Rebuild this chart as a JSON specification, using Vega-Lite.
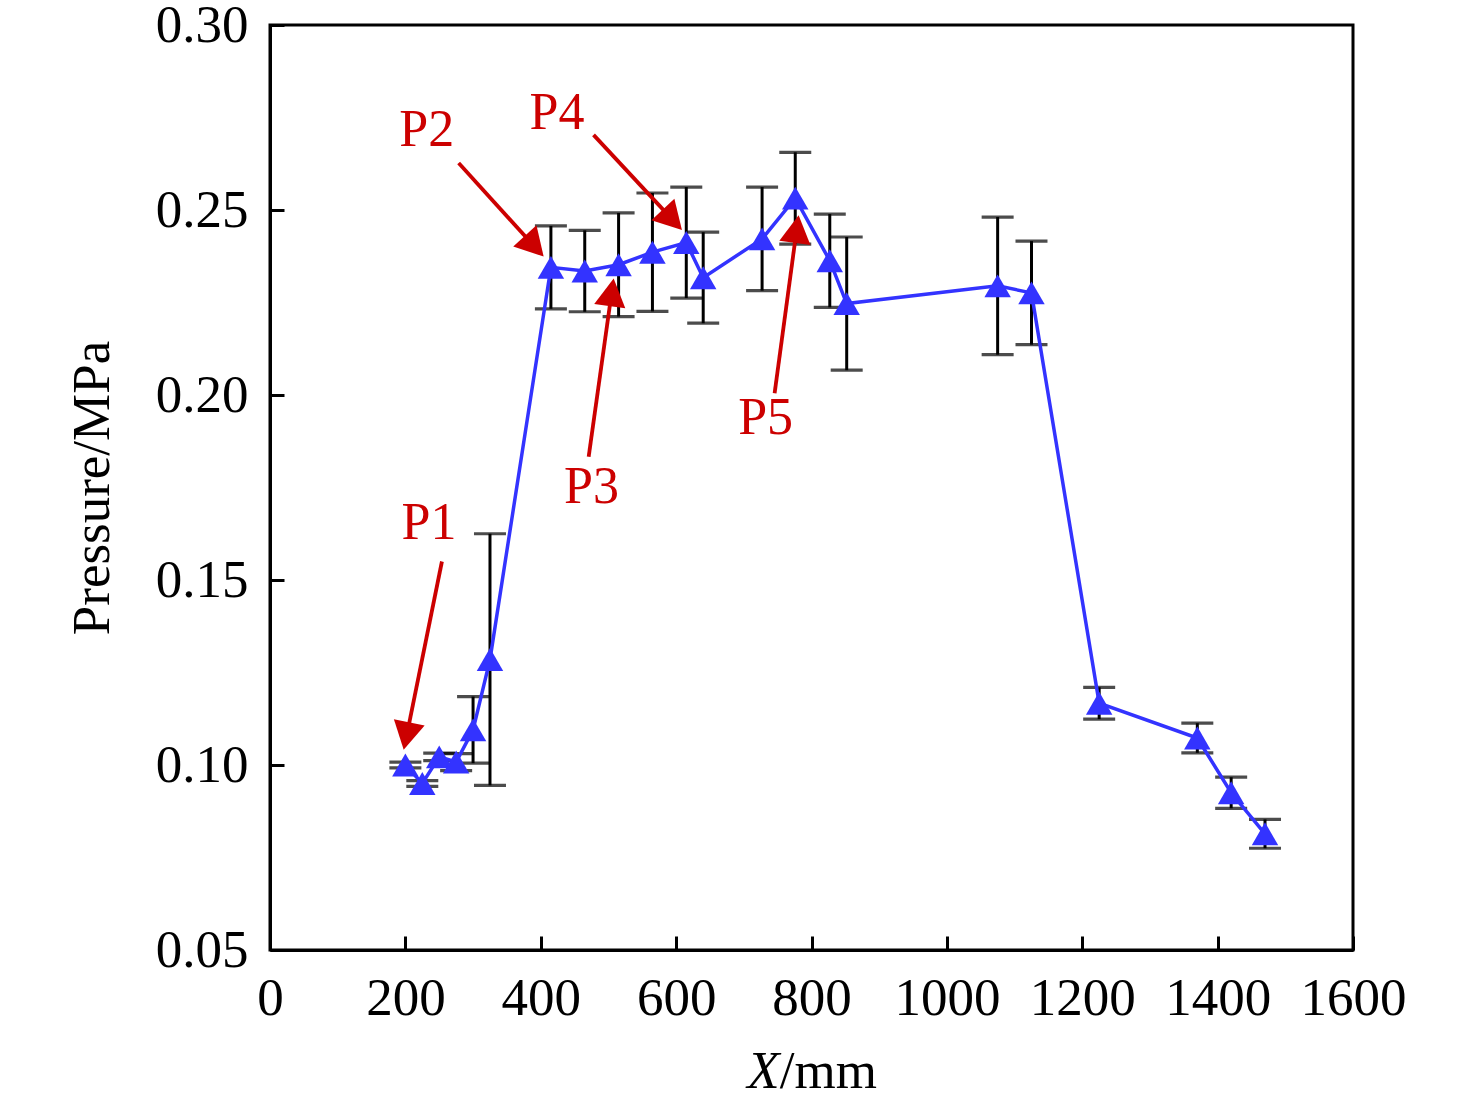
{
  "$schema": "https://vega.github.io/schema/vega-lite/v6.json",
  "width": 1083,
  "height": 925,
  "autosize": "none",
  "padding": {"left": 270, "top": 25, "right": 123, "bottom": 146},
  "background": "white",
  "config": {
    "view": {"stroke": "black", "strokeWidth": 3},
    "font": "Liberation Serif"
  },
  "datasets": {
    "pts": [
      {"x": 200, "p": 0.1000, "lo": 0.0992, "hi": 0.1008},
      {"x": 225, "p": 0.0950, "lo": 0.0942, "hi": 0.0958},
      {"x": 250, "p": 0.1022, "lo": 0.1012, "hi": 0.1032},
      {"x": 275, "p": 0.1008, "lo": 0.0985, "hi": 0.1031},
      {"x": 300, "p": 0.1095, "lo": 0.1005, "hi": 0.1185},
      {"x": 325, "p": 0.1285, "lo": 0.0945, "hi": 0.1625},
      {"x": 415, "p": 0.2345, "lo": 0.2233, "hi": 0.2457},
      {"x": 465, "p": 0.2335, "lo": 0.2225, "hi": 0.2445},
      {"x": 515, "p": 0.2352, "lo": 0.2212, "hi": 0.2492},
      {"x": 565, "p": 0.2386, "lo": 0.2226, "hi": 0.2546},
      {"x": 615, "p": 0.2412, "lo": 0.2262, "hi": 0.2562},
      {"x": 640, "p": 0.2317, "lo": 0.2194, "hi": 0.2440},
      {"x": 727, "p": 0.2422, "lo": 0.2282, "hi": 0.2562},
      {"x": 776, "p": 0.2532, "lo": 0.2408, "hi": 0.2656},
      {"x": 827, "p": 0.2363, "lo": 0.2237, "hi": 0.2489},
      {"x": 852, "p": 0.2247, "lo": 0.2067, "hi": 0.2427},
      {"x": 1075, "p": 0.2295, "lo": 0.2109, "hi": 0.2481},
      {"x": 1125, "p": 0.2276, "lo": 0.2136, "hi": 0.2416},
      {"x": 1225, "p": 0.1167, "lo": 0.1124, "hi": 0.1210},
      {"x": 1370, "p": 0.1073, "lo": 0.1033, "hi": 0.1113},
      {"x": 1420, "p": 0.0925, "lo": 0.0883, "hi": 0.0967},
      {"x": 1470, "p": 0.0814, "lo": 0.0775, "hi": 0.0853}
    ],
    "arrows": [
      {"name": "P1", "tx": 235, "ty": 0.1654, "x1": 254, "y1": 0.1550, "x2": 202, "y2": 0.1080, "hx": 197.5, "hy": 0.1041, "ang": 191.5},
      {"name": "P2", "tx": 231.5, "ty": 0.2716, "x1": 278.7, "y1": 0.2627, "x2": 389.4, "y2": 0.2404, "hx": 404.3, "hy": 0.2374, "ang": 137.8},
      {"name": "P3", "tx": 475, "ty": 0.1751, "x1": 470.8, "y1": 0.1833, "x2": 504.6, "y2": 0.2275, "hx": 507.7, "hy": 0.2315, "ang": 8},
      {"name": "P4", "tx": 423.9, "ty": 0.2762, "x1": 478, "y1": 0.2703, "x2": 593.5, "y2": 0.2476, "hx": 608.6, "hy": 0.2446, "ang": 137.1},
      {"name": "P5", "tx": 732.2, "ty": 0.1938, "x1": 745.5, "y1": 0.2005, "x2": 778, "y2": 0.2446, "hx": 781, "hy": 0.2486, "ang": 7.7}
    ]
  },
  "layer": [
    {
      "data": {"name": "pts"},
      "mark": {"type": "rule", "color": "black", "strokeWidth": 3},
      "encoding": {
        "x": {
          "field": "x", "type": "quantitative",
          "scale": {"domain": [0, 1600]},
          "axis": {
            "values": [0, 200, 400, 600, 800, 1000, 1200, 1400, 1600],
            "format": "d",
            "grid": false, "tickSize": -14, "tickWidth": 3, "tickColor": "black",
            "domainColor": "black", "domainWidth": 3,
            "labelFont": "Liberation Serif", "labelFontSize": 53, "labelColor": "black",
            "labelPadding": 36, "labelFlush": false, "labelOverlap": false,
            "title": null
          }
        },
        "y": {
          "field": "lo", "type": "quantitative",
          "scale": {"domain": [0.05, 0.30], "nice": false, "zero": false},
          "axis": {
            "values": [0.05, 0.10, 0.15, 0.20, 0.25, 0.30],
            "format": ".2f",
            "grid": false, "tickSize": -14, "tickWidth": 3, "tickColor": "black",
            "domainColor": "black", "domainWidth": 3,
            "labelFont": "Liberation Serif", "labelFontSize": 53, "labelColor": "black",
            "labelPadding": 36, "labelFlush": false, "labelOverlap": false,
            "title": "Pressure/MPa",
            "titleFont": "Liberation Serif", "titleFontSize": 53, "titleFontWeight": "normal",
            "titleColor": "black", "titlePadding": 36
          }
        },
        "y2": {"field": "hi"}
      }
    },
    {
      "data": {"name": "pts"},
      "mark": {"type": "tick", "orient": "horizontal", "color": "black", "size": 32, "thickness": 3.2},
      "encoding": {
        "x": {"field": "x", "type": "quantitative"},
        "y": {"field": "lo", "type": "quantitative"}
      }
    },
    {
      "data": {"name": "pts"},
      "mark": {"type": "tick", "orient": "horizontal", "color": "black", "size": 32, "thickness": 3.2},
      "encoding": {
        "x": {"field": "x", "type": "quantitative"},
        "y": {"field": "hi", "type": "quantitative"}
      }
    },
    {
      "data": {"name": "pts"},
      "mark": {"type": "line", "color": "#3333ff", "strokeWidth": 3.5},
      "encoding": {
        "x": {"field": "x", "type": "quantitative"},
        "y": {"field": "p", "type": "quantitative"}
      }
    },
    {
      "data": {"name": "pts"},
      "mark": {"type": "point", "shape": "triangle-up", "filled": true, "color": "#3333ff", "size": 700, "opacity": 1},
      "encoding": {
        "x": {"field": "x", "type": "quantitative"},
        "y": {"field": "p", "type": "quantitative"}
      }
    },
    {
      "data": {"name": "arrows"},
      "mark": {"type": "rule", "color": "#cc0000", "strokeWidth": 3.8},
      "encoding": {
        "x": {"field": "x1", "type": "quantitative"},
        "y": {"field": "y1", "type": "quantitative"},
        "x2": {"field": "x2"},
        "y2": {"field": "y2"}
      }
    },
    {
      "data": {"name": "arrows"},
      "mark": {"type": "point", "shape": "M0,0 L0.56,1 L-0.56,1 Z", "filled": true, "color": "#cc0000", "size": 3136, "opacity": 1},
      "encoding": {
        "x": {"field": "hx", "type": "quantitative"},
        "y": {"field": "hy", "type": "quantitative"},
        "angle": {"field": "ang", "type": "quantitative", "scale": null}
      }
    },
    {
      "data": {"name": "arrows"},
      "mark": {"type": "text", "color": "#cc0000", "fontSize": 52, "font": "Liberation Serif", "align": "center", "baseline": "middle"},
      "encoding": {
        "x": {"field": "tx", "type": "quantitative"},
        "y": {"field": "ty", "type": "quantitative"},
        "text": {"field": "name"}
      }
    },
    {
      "data": {"values": [{"x": 753, "y": 0.017, "t": "X"}]},
      "mark": {"type": "text", "color": "black", "fontSize": 53, "font": "Liberation Serif", "fontStyle": "italic", "align": "right", "baseline": "middle"},
      "encoding": {
        "x": {"field": "x", "type": "quantitative"},
        "y": {"field": "y", "type": "quantitative"},
        "text": {"field": "t"}
      }
    },
    {
      "data": {"values": [{"x": 753, "y": 0.017, "t": "/mm"}]},
      "mark": {"type": "text", "color": "black", "fontSize": 53, "font": "Liberation Serif", "align": "left", "baseline": "middle"},
      "encoding": {
        "x": {"field": "x", "type": "quantitative"},
        "y": {"field": "y", "type": "quantitative"},
        "text": {"field": "t"}
      }
    }
  ]
}
